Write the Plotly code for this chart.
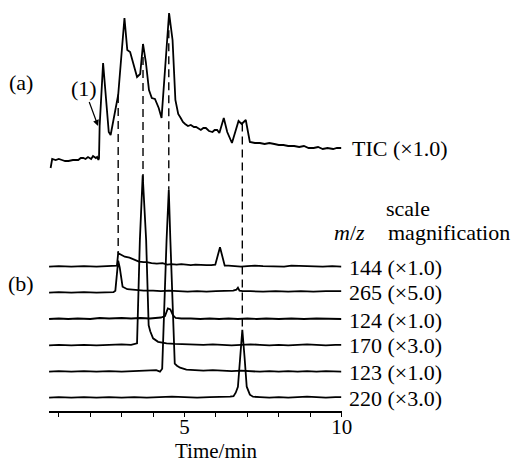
import numpy as np
import plotly.graph_objects as go

FONT = "Liberation Serif"

# ---- (a) total ion chromatogram ----
tic_time = [0.74, 0.79, 0.90, 1.00, 1.10, 1.20, 1.31, 1.45, 1.62, 1.70, 1.78, 1.85, 1.93, 2.03, 2.09, 2.18,
            2.22, 2.26, 2.28, 2.30, 2.41, 2.50, 2.59, 2.65, 2.75, 2.89, 3.09, 3.14, 3.18, 3.27, 3.38, 3.49,
            3.59, 3.68, 3.77, 3.87, 3.96, 4.06, 4.18, 4.27, 4.51, 4.62, 4.71, 4.80, 4.88, 4.95, 5.02, 5.11,
            5.20, 5.30, 5.37, 5.45, 5.52, 5.60, 5.68, 5.78, 5.89, 5.96, 6.04, 6.11, 6.25, 6.36, 6.51, 6.72,
            6.82, 6.95, 7.08, 7.24, 7.40, 7.55, 7.70, 7.86, 8.00, 8.15, 8.30, 8.49, 8.65, 8.80, 8.95, 9.11,
            9.25, 9.40, 9.55, 9.73, 9.85, 9.99]
tic_int = [2, 11, 10, 11, 10, 9, 9, 10, 10, 12, 12, 11, 13, 11, 14, 12,
           13, 10, 12, 44, 107, 70, 38, 35, 52, 75, 152, 135, 120, 118, 105, 93,
           96, 126, 108, 80, 72, 71, 62, 52, 157, 130, 70, 56, 52, 48, 46, 44,
           45, 43, 43, 41, 40, 42, 42, 39, 38, 40, 40, 37, 52, 38, 27, 49,
           46, 50, 28, 27, 27, 26, 27, 26, 25, 25, 24, 24, 23, 24, 22, 22,
           23, 21, 22, 21, 22, 22]
tic_offset = 241
tic_label = "TIC (×1.0)"

# ---- (b) mass chromatograms ----
mz144_time = [0.69, 1.0, 1.4, 1.8, 2.2, 2.6, 2.85, 2.89, 2.97, 3.10, 3.25, 3.40, 3.55, 3.70, 3.80, 3.95,
              4.12, 4.30, 4.45, 4.58, 4.75, 4.90, 5.05, 5.20, 5.35, 5.52, 5.70, 5.85, 5.98, 6.13, 6.28,
              6.40, 6.61, 6.80, 7.00, 7.24, 7.50, 7.80, 8.17, 8.40, 8.70, 9.11, 9.40, 9.70, 9.99]
mz144_int = [0, 0.5, 0, 0.5, 0, 0.5, 1, 13.5, 12, 10, 9, 7, 5, 4.5, 4.5, 3.5,
             3, 3.5, 2, 2.5, 2, 2.5, 2, 1.5, 2, 1.5, 1.5, 1.5, 2, 19.5, 1,
             1, 0.5, 0, 0.5, 1, 0.5, 0, 0, 1, 0.5, 0.5, 0, 0.5, 0]

mz265_time = [0.69, 1.0, 1.4, 1.8, 2.2, 2.5, 2.74, 2.80, 2.89, 2.94, 3.03, 3.18, 3.35, 3.50, 3.70, 4.00,
              4.25, 4.50, 4.80, 5.10, 5.40, 5.70, 6.00, 6.30, 6.55, 6.65, 6.70, 6.75, 6.85, 7.10,
              7.50, 7.90, 8.30, 8.70, 9.10, 9.50, 9.99]
mz265_int = [0, 0.5, 0, 0.5, 0, 0, 0.5, 2, 32, 25, 6, 3.5, 3, 2.5, 2, 2,
             1.5, 2, 1.5, 1, 1.5, 1, 1.5, 1.5, 2, 3, 5, 2, 1.5, 1.5,
             1, 1.5, 1, 1.5, 1, 1.5, 1.5]

mz124_time = [0.69, 1.0, 1.3, 1.6, 2.0, 2.3, 2.6, 3.0, 3.3, 3.6, 3.9, 4.1, 4.25, 4.38, 4.47, 4.55,
              4.63, 4.72, 4.90, 5.2, 5.5, 5.8, 6.1, 6.4, 6.7, 7.0, 7.3, 7.6, 8.0, 8.4, 8.8, 9.2,
              9.6, 9.99]
mz124_int = [0, 0.5, 0, 0.5, 0, 1, 0.5, 1, 0.5, 1, 0.5, 1, 1.5, 3, 10.5, 9.5,
             4, 1, 0.5, 0.5, 0, 0.5, 0, 0.5, 0, 0.5, 0, 0.5, 0, 0.5, 0, 0.5,
             0, 0]

mz170_time = [0.69, 1.0, 1.4, 1.8, 2.2, 2.6, 3.0, 3.3, 3.49, 3.58, 3.67, 3.78, 3.86, 3.91, 4.00, 4.16,
              4.43, 4.70, 5.00, 5.30, 5.60, 5.90, 6.20, 6.50, 6.80, 7.10, 7.40, 7.70, 8.00, 8.30,
              8.60, 8.90, 9.20, 9.50, 9.80, 9.99]
mz170_int = [0, 0.5, 0, 0.5, 0, 0.5, 1, 0.5, 2, 105, 170, 105, 20, 14, 7, 3.5,
             2, 1.5, 1, 1, 0.5, 1, 0.5, 0, 0.5, 1, 0.5, 0, 0.5, 0,
             0.5, 1, 0.5, 0, 0.5, 0.5]

mz123_time = [0.69, 1.0, 1.4, 1.8, 2.2, 2.6, 3.0, 3.4, 3.8, 4.10, 4.22, 4.29, 4.43, 4.50, 4.55, 4.69,
              4.76, 4.86, 5.06, 5.30, 5.60, 5.90, 6.20, 6.50, 6.80, 7.10, 7.40, 7.70, 8.00, 8.30,
              8.60, 8.90, 9.20, 9.50, 9.80, 9.99]
mz123_int = [0, 0.5, 0, 0.5, 0, 0.5, 0, 0.5, 1, 1.5, 0, 3, 132, 182, 132, 8,
             6, 4, 2, 1.5, 1, 1.5, 1, 0.5, 1, 0.5, 0, 0.5, 0, 0.5,
             0, 0.5, 0, 0.5, 0, 0]

mz220_time = [0.69, 1.0, 1.4, 1.8, 2.2, 2.6, 3.0, 3.4, 3.8, 4.2, 4.6, 5.0, 5.4, 5.8, 6.2, 6.45,
              6.56, 6.63, 6.70, 6.77, 6.84, 6.91, 6.98, 7.08, 7.18, 7.40, 7.70, 8.00, 8.30, 8.60,
              8.90, 9.20, 9.50, 9.80, 9.99]
mz220_int = [0, 0.5, 0, 0.5, 0, 0.5, 0, 0.5, 0, 0.5, 1, 0.5, 0, 0.5, 0.5, 1,
             1.5, 5, 11, 41, 68, 41, 11, 3, 1, 0.5, 0, 0.5, 0, 0.5,
             1, 0.5, 0, 0.5, 0.5]

ion_mz = ["144", "265", "124", "170", "123", "220"]
ion_scale = ["×1.0", "×5.0", "×1.0", "×3.0", "×1.0", "×3.0"]
ion_offset = [144.3, 118.3, 92.0, 65.7, 39.3, 13.3]
ion_time = [mz144_time, mz265_time, mz124_time, mz170_time, mz123_time, mz220_time]
ion_int = [mz144_int, mz265_int, mz124_int, mz170_int, mz123_int, mz220_int]

# retention times linking TIC peaks with ion peaks
link_time = [2.89, 3.68, 4.50, 6.84]
link_ion = ["144", "170", "123", "220"]

fig = go.Figure()
line_style = dict(color="black", width=1.8)

fig.add_trace(go.Scatter(x=tic_time, y=np.array(tic_int) + tic_offset, mode="lines",
                         line=line_style, hoverinfo="skip"))
for t, h, off in zip(ion_time, ion_int, ion_offset):
    fig.add_trace(go.Scatter(x=t, y=np.array(h) + off, mode="lines",
                             line=line_style, hoverinfo="skip"))

for lt, li in zip(link_time, link_ion):
    k = ion_mz.index(li)
    top = tic_offset + np.interp(lt, tic_time, tic_int)
    bot = ion_offset[k] + np.interp(lt, ion_time[k], ion_int[k])
    fig.add_trace(go.Scatter(x=[lt, lt], y=[top, bot], mode="lines",
                             line=dict(color="black", width=1.4, dash="8px,5px"),
                             hoverinfo="skip"))

W, H = 522, 464
f = dict(family=FONT, size=22, color="black")
f21 = dict(family=FONT, size=21, color="black")


def txt(text, x, y, xanchor="center", xref="paper", yref="paper"):
    return dict(text=text, xref=xref, yref=yref, x=x, y=y, xanchor=xanchor, yanchor="middle",
                showarrow=False, font=f)


ann = []
ann.append(txt("(a)", 21 / W, 1 - 82 / H))
ann.append(txt("(b)", 21 / W, 1 - 283 / H))
ann.append(dict(text="(1)", xref="x", yref="y", x=2.25, y=285, ax=-14, ay=-38, showarrow=True,
                xanchor="center", yanchor="middle",
                arrowhead=2, arrowsize=1, arrowwidth=1.2, arrowcolor="black", font=f))
ann.append(txt(tic_label, 357 / W, tic_offset + tic_int[-1], xanchor="left", yref="y"))
for mz, sc, off, h in zip(ion_mz, ion_scale, ion_offset, ion_int):
    ann.append(txt(f"{mz} ({sc})", 354 / W, off + h[-1] - 1, xanchor="left", yref="y"))
ann.append(txt("scale", 416 / W, 1 - 208 / H))
ann.append(txt("<i>m</i>/<i>z</i>", 356 / W, 1 - 232 / H))
ann.append(txt("magnification", 394 / W, 1 - 232 / H, xanchor="left"))
ann.append(dict(text="Time/min", xref="paper", yref="paper", x=221 / W, y=0.0,
                xanchor="center", yanchor="bottom", borderpad=0, showarrow=False, font=f21))

fig.update_layout(
    width=W, height=H, margin=dict(l=0, r=0, t=0, b=0),
    paper_bgcolor="white", plot_bgcolor="white", showlegend=False,
    annotations=ann,
    xaxis=dict(domain=[50 / W, 348.3 / W], range=[0.69, 10.0], showline=True, linecolor="black",
               linewidth=1.5, ticks="outside", ticklen=4, tickwidth=1.3, tickcolor="black",
               tickvals=list(range(1, 11)),
               ticktext=["", "", "", "", "5", "", "", "", "", "10"],
               ticklabelstandoff=-8,
               tickfont=f21,
               showgrid=False, zeroline=False, fixedrange=True),
    yaxis=dict(domain=[(H - 411) / H, 1], range=[0, 411], visible=False, fixedrange=True),
)

fig.write_html("out.html")
